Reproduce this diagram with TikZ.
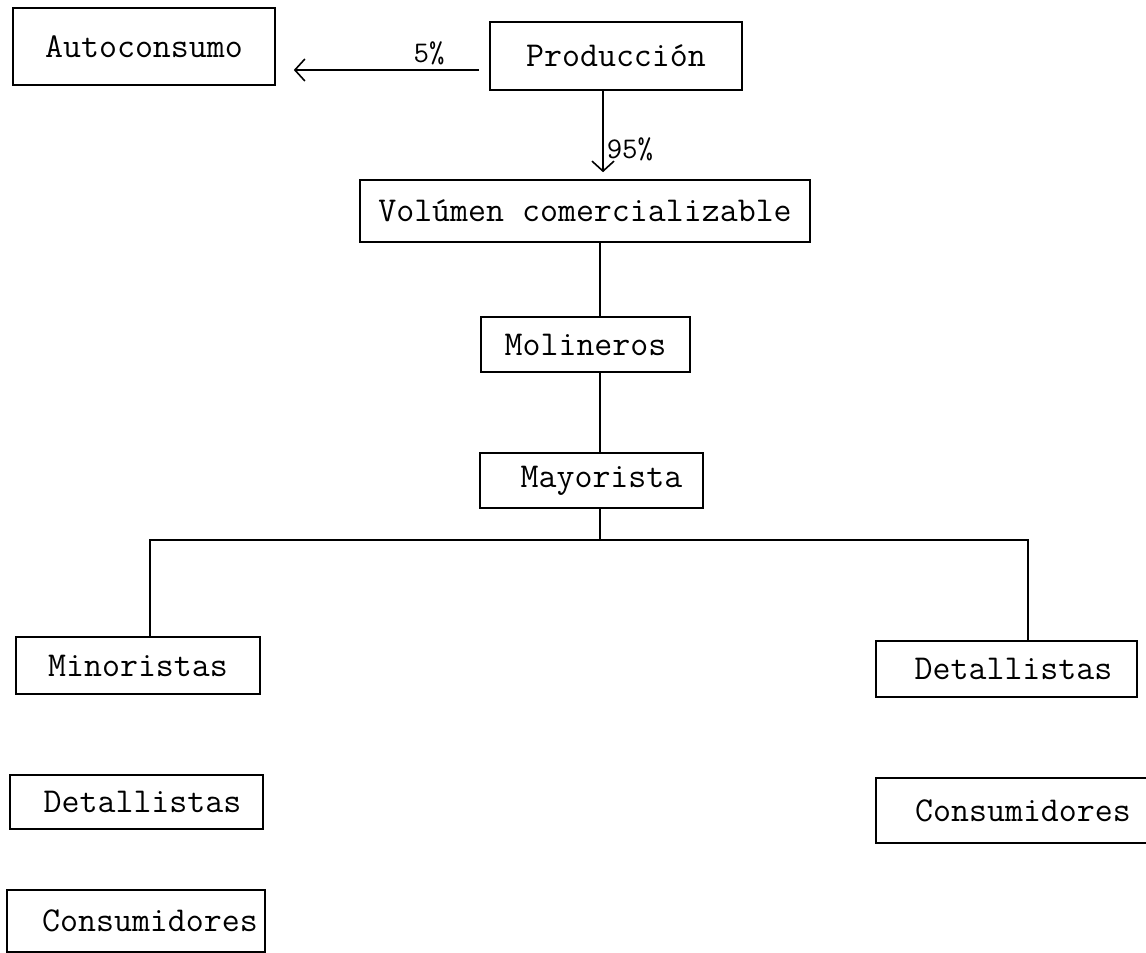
\documentclass[tikz,border=0pt]{standalone}
\usetikzlibrary{arrows.meta}
\begin{document}
\begin{tikzpicture}[x=1pt,y=-1pt,
  box/.style={draw, line width=1.6pt, inner sep=0pt, font=\fontsize{34.9}{40}\selectfont\ttfamily},
  conn/.style={line width=1.6pt},
  tip/.style={-{Straight Barb[length=10pt,width=22pt,line width=1.6pt]}},
  lbl/.style={inner sep=0pt, font=\fontsize{30}{34}\selectfont\ttfamily}]
\useasboundingbox (0,0) rectangle (1146,953);
\node[box, minimum width=262pt, minimum height=77pt] (auto) at (144,46.5) {Autoconsumo};
\node[box, minimum width=252pt, minimum height=68pt] (prod) at (616,56) {Producción};
\node[box, minimum width=450pt, minimum height=62pt] (vol) at (585,211) {Volúmen comercializable};
\node[box, minimum width=209pt, minimum height=55pt] (mol) at (585.5,344.5) {Molineros};
\node[box, minimum width=223pt, minimum height=55pt] (may) at (591.5,480.5) {\hspace*{20pt}Mayorista};
\node[box, minimum width=244pt, minimum height=57pt] (min) at (138,665.5) {Minoristas};
\node[box, minimum width=253pt, minimum height=54pt] (detL) at (136.5,802) {\hspace*{12pt}Detallistas};
\node[box, minimum width=258pt, minimum height=62pt] (conL) at (136,921) {\hspace*{28pt}Consumidores};
\node[box, minimum width=261pt, minimum height=56pt] (detR) at (1006.5,669) {\hspace*{14pt}Detallistas};
\node[box, minimum width=276pt, minimum height=65pt] (conR) at (1014,810.5) {\hspace*{18pt}Consumidores};
% 5% arrow
\coordinate (a1) at ([shift={(-10pt,-14pt)}]prod.west);
\path (auto.east |- a1) ++(18pt,0) coordinate (a2);
\draw[conn, tip] (a1) -- node[pos=0.27, above=4pt, lbl] {5\%} (a2);
% 95% arrow
\coordinate (d1) at ([xshift=-13pt]prod.south);
\path (vol.north -| d1) ++(0,7pt) coordinate (d2);
\draw[conn, tip] (d1) -- node[pos=0.72, right=3pt, lbl] {95\%} (d2);
% trunk
\coordinate (t) at (600,0);
\draw[conn] (vol.south -| t) -- (mol.north -| t);
\draw[conn] (mol.south -| t) -- (may.north -| t);
\coordinate (bl) at (150,540);
\coordinate (br) at (1028,540);
\draw[conn] (may.south -| t) -- (t |- bl);
\draw[conn] (min.north -| bl) -- (bl) -- (br) -- (detR.north -| br);
\end{tikzpicture}
\end{document}
